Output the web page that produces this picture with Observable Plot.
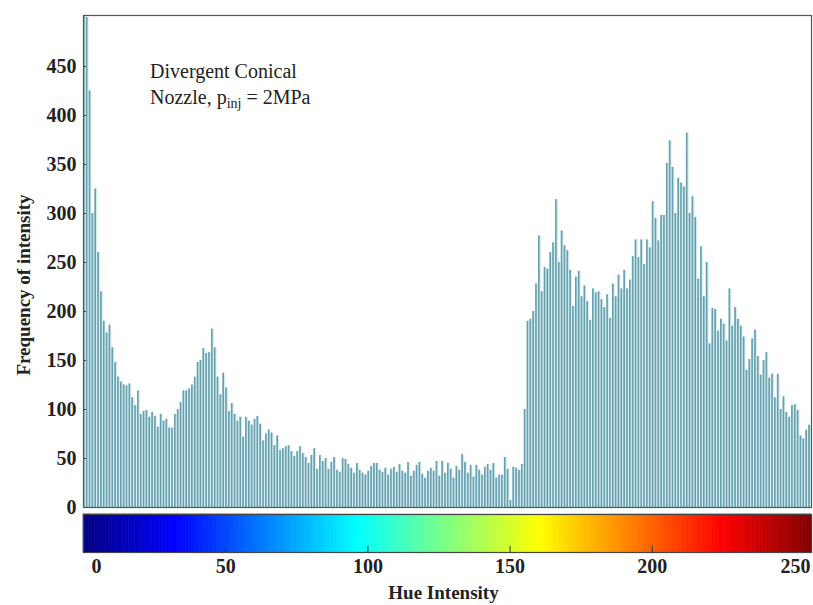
<!DOCTYPE html>
<html>
<head>
<meta charset="utf-8">
<script src="https://cdn.jsdelivr.net/npm/d3@7"></script>
<script src="https://cdn.jsdelivr.net/npm/@observablehq/plot@0.6"></script>
<style>
  html, body { margin: 0; padding: 0; background: #fff; }
  #chart { width: 813px; height: 605px; position: relative; overflow: hidden; }
  #chart svg { display: block; overflow: visible; }
</style>
</head>
<body>
<div id="chart"></div>
<script>
// Histogram counts for hue intensity bins 0..255
const counts = [
  560, 500, 425, 300, 325, 260, 220, 190, 178, 186,
  163, 148, 133, 128, 125, 124, 126, 112, 104, 119,
  95, 98, 99, 92, 97, 93, 82, 95, 88, 90,
  81, 81, 95, 100, 107, 119, 119, 121, 125, 133,
  148, 150, 162, 157, 158, 182, 163, 133, 115, 137,
  122, 98, 106, 95, 88, 92, 72, 92, 88, 84,
  90, 93, 85, 68, 75, 79, 76, 63, 73, 58,
  60, 62, 63, 57, 52, 57, 62, 55, 51, 45,
  53, 60, 39, 53, 47, 50, 39, 46, 51, 38,
  36, 50, 49, 44, 40, 35, 45, 38, 35, 33,
  37, 42, 45, 45, 38, 36, 40, 33, 39, 41,
  36, 44, 37, 35, 46, 32, 37, 43, 46, 34,
  30, 37, 40, 37, 47, 32, 47, 35, 45, 39,
  30, 42, 38, 54, 46, 35, 43, 31, 43, 38,
  33, 41, 44, 38, 45, 30, 33, 33, 51, 39,
  7, 41, 40, 38, 44, 100, 190, 192, 200, 228,
  277, 220, 245, 243, 260, 270, 314, 250, 282, 267,
  262, 242, 205, 235, 241, 215, 226, 210, 191, 223,
  219, 220, 212, 204, 217, 193, 228, 215, 237, 223,
  242, 223, 232, 256, 273, 255, 273, 248, 273, 265,
  312, 295, 272, 298, 298, 351, 374, 347, 300, 336,
  331, 327, 382, 300, 317, 296, 233, 266, 215, 250,
  167, 203, 202, 180, 192, 187, 170, 223, 185, 204,
  192, 185, 174, 140, 151, 172, 181, 154, 135, 150,
  158, 132, 136, 112, 136, 100, 113, 97, 92, 104,
  105, 99, 73, 70, 79, 84
];
const yTicks = [0, 50, 100, 150, 200, 250, 300, 350, 400, 450];
const xTicks = [0, 50, 100, 150, 200, 250];
const jetStops = [0, 32, 96, 160, 224, 256];
const jetColors = ["#000080", "#0000ff", "#00ffff", "#ffff00", "#ff0000", "#800000"];
const titleLine1 = "Divergent Conical";
const titleLine2a = "Nozzle, p";
const titleSub = "inj";
const titleLine2b = " = 2MPa";
const yLabel = "Frequency of intensity";
const xLabel = "Hue Intensity";

const data = counts.map((c, i) => ({bin: i, count: c}));
const cells = counts.map((c, i) => i);

const serif = "'Liberation Serif', 'Times New Roman', serif";

const main = Plot.plot({
  width: 813,
  height: 514,
  marginLeft: 83,
  marginRight: 2,
  marginTop: 15,
  marginBottom: 7,
  style: {fontFamily: serif, color: "#222", background: "transparent", overflow: "visible"},
  x: {domain: [0, 256], axis: null},
  y: {domain: [0, 502], axis: null},
  marks: [
    Plot.rectY(data, {x1: "bin", x2: d => d.bin + 1, y: "count", fill: "#d2eff5", clip: true}),
    Plot.rectY(data, {x1: "bin", x2: d => d.bin + 0.58, y: "count", fill: "#6a9fab", clip: true}),
    Plot.ruleY(yTicks.slice(1), {x1: 0, x2: 1, stroke: "#333", strokeWidth: 1}),
    Plot.frame({stroke: "#555", strokeWidth: 1.2}),
    Plot.axisY(yTicks, {tickSize: 0, tickPadding: 7, fontSize: 20, fontWeight: "bold", label: null, fill: "#222"})
  ]
});

const svgMain = d3.select(main);
svgMain.append("text")
  .attr("transform", "translate(26,285) rotate(-90)")
  .attr("text-anchor", "middle")
  .attr("dominant-baseline", "middle")
  .attr("font-family", serif)
  .attr("font-weight", "bold")
  .attr("font-size", 19)
  .attr("fill", "#222")
  .text(yLabel);
svgMain.append("text")
  .attr("x", 150).attr("y", 78)
  .attr("text-anchor", "start")
  .attr("font-family", serif).attr("font-size", 20).attr("fill", "#222")
  .text(titleLine1);
const t2 = svgMain.append("text")
  .attr("x", 150).attr("y", 104)
  .attr("text-anchor", "start")
  .attr("font-family", serif).attr("font-size", 20).attr("fill", "#222");
t2.append("tspan").text(titleLine2a);
t2.append("tspan").attr("dy", 4).attr("font-size", 14).text(titleSub);
t2.append("tspan").attr("dy", -4).text(titleLine2b);

const bar = Plot.plot({
  width: 813,
  height: 91,
  marginLeft: 83,
  marginRight: 2,
  marginTop: 0,
  marginBottom: 53,
  style: {fontFamily: serif, color: "#222", background: "transparent", overflow: "visible"},
  x: {domain: [0, 256], axis: null},
  y: {domain: [0, 1], axis: null},
  color: {type: "linear", domain: jetStops, range: jetColors, interpolate: "rgb"},
  marks: [
    Plot.rect(cells, {x1: d => d, x2: d => d + 1, y1: 0, y2: 1, fill: d => d, stroke: d => d, strokeWidth: 0.6}),
    Plot.ruleX(xTicks.slice(1, -1), {y1: 0, y2: 0.16, stroke: "#333", strokeWidth: 1}),
    Plot.frame({stroke: "#444", strokeWidth: 1.2}),
    Plot.text(xTicks.slice(0, 1), {x: d => d, frameAnchor: "bottom", dy: 14, dx: 13, lineAnchor: "middle", text: d => String(d), fontSize: 20, fontWeight: "bold", fill: "#222"}),
    Plot.text(xTicks.slice(1, -1), {x: d => d, frameAnchor: "bottom", dy: 14, lineAnchor: "middle", text: d => String(d), fontSize: 20, fontWeight: "bold", fill: "#222"}),
    Plot.text(xTicks.slice(-1), {x: d => d, frameAnchor: "bottom", dy: 14, dx: 1, lineAnchor: "middle", text: d => String(d), fontSize: 20, fontWeight: "bold", fill: "#222"}),
    Plot.text([xLabel], {frameAnchor: "bottom", dy: 40, dx: -4, lineAnchor: "middle", text: d => d, fontSize: 19, fontWeight: "bold", fill: "#222"})
  ]
});

const chart = document.getElementById("chart");
chart.appendChild(main);
chart.appendChild(bar);
</script>
</body>
</html>
